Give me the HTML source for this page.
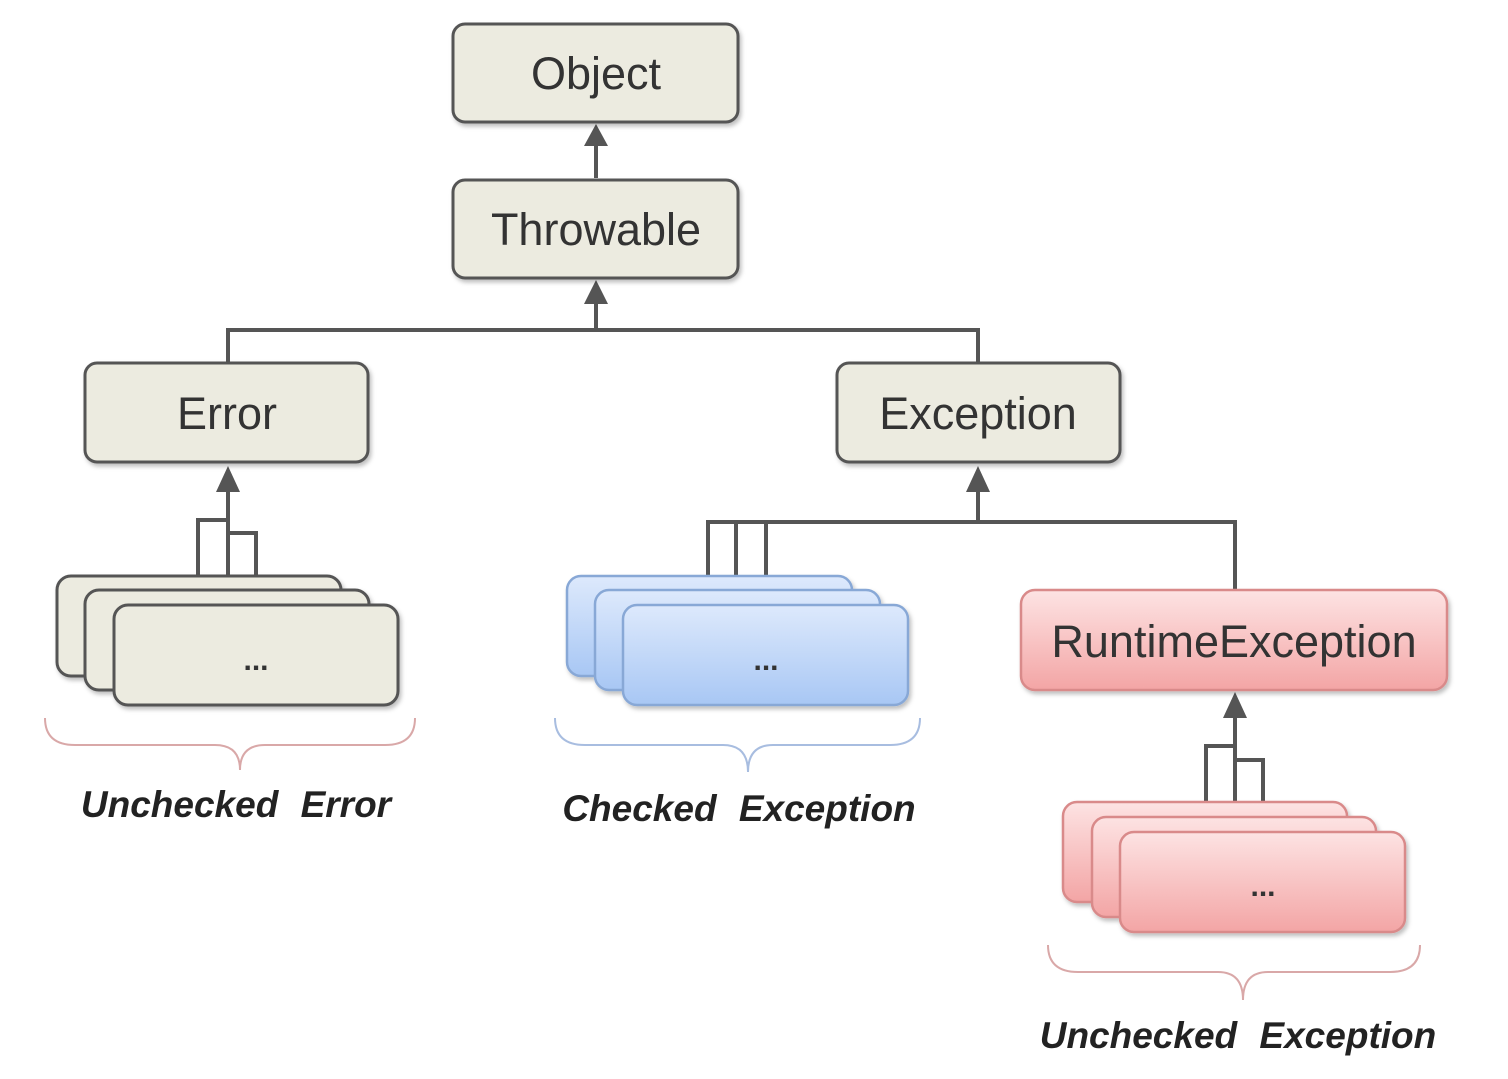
<!DOCTYPE html><html><head><style>body{margin:0;background:#fff}</style></head><body>
<svg width="1508" height="1074" xmlns="http://www.w3.org/2000/svg" font-family="Liberation Sans, DejaVu Sans, sans-serif">
<defs>
<linearGradient id="b" x1="0" y1="0" x2="0" y2="1"><stop offset="0" stop-color="#dde9fc"/><stop offset="1" stop-color="#a8c7f4"/></linearGradient>
<linearGradient id="p" x1="0" y1="0" x2="0" y2="1"><stop offset="0" stop-color="#fde3e3"/><stop offset="1" stop-color="#f3a5a5"/></linearGradient>
<filter id="s" x="-10%" y="-10%" width="120%" height="130%"><feDropShadow dx="2" dy="3" stdDeviation="2" flood-opacity="0.25"/></filter>
</defs>
<g fill="none" stroke="#555" stroke-width="4">
<path d="M596 178V140M596 328V298M228 363V330H978V363"/>
<path d="M198 576V520H228M228 590V490M256 605V533H228"/>
<path d="M708 576V522H1235V590M736 590V522M766 605V522M978 522V490"/>
<path d="M1206 802V746H1235M1235 817V718M1263 832V760H1235"/>
</g>
<g fill="#555">
<path d="M584 146L596 124L608 146Z"/><path d="M584 304L596 280L608 304Z"/>
<path d="M216 492L228 466L240 492Z"/><path d="M966 492L978 466L990 492Z"/>
<path d="M1223 718L1235 692L1247 718Z"/>
</g>
<g stroke="#555" stroke-width="3" fill="#ecebe0" filter="url(#s)">
<rect x="453" y="24" width="285" height="98" rx="12"/>
<rect x="453" y="180" width="285" height="98" rx="12"/>
<rect x="85" y="363" width="283" height="99" rx="12"/>
<rect x="837" y="363" width="283" height="99" rx="12"/>
<rect x="57" y="576" width="284" height="100" rx="14"/>
<rect x="85" y="590" width="284" height="100" rx="14"/>
<rect x="114" y="605" width="284" height="100" rx="14"/>
</g>
<g stroke="#88a8d6" stroke-width="2.5" fill="url(#b)" filter="url(#s)">
<rect x="567" y="576" width="285" height="100" rx="14"/>
<rect x="595" y="590" width="285" height="100" rx="14"/>
<rect x="623" y="605" width="285" height="100" rx="14"/>
</g>
<g stroke="#d98a8a" stroke-width="2.5" fill="url(#p)" filter="url(#s)">
<rect x="1021" y="590" width="426" height="100" rx="14"/>
<rect x="1063" y="802" width="284" height="100" rx="14"/>
<rect x="1092" y="817" width="284" height="100" rx="14"/>
<rect x="1120" y="832" width="285" height="100" rx="14"/>
</g>
<g fill="#333" font-size="45" text-anchor="middle">
<text x="596" y="89">Object</text>
<text x="596" y="245">Throwable</text>
<text x="227" y="429">Error</text>
<text x="978" y="429">Exception</text>
<text x="1234" y="657">RuntimeException</text>
</g>
<g fill="#333" font-size="30" text-anchor="middle" font-weight="bold">
<text x="256" y="670">...</text><text x="766" y="670">...</text><text x="1263" y="896">...</text>
</g>
<g fill="none" stroke-width="2">
<path d="M45 718Q45 745 75 745H215Q240 745 240 770Q240 745 265 745H385Q415 745 415 718" stroke="#d9a8a8"/>
<path d="M555 718Q555 745 585 745H723Q748 745 748 772Q748 745 773 745H890Q920 745 920 718" stroke="#a8bde0"/>
<path d="M1048 945Q1048 972 1078 972H1218Q1243 972 1243 1000Q1243 972 1268 972H1390Q1420 972 1420 945" stroke="#d9a8a8"/>
</g>
<g fill="#222" font-size="37" font-weight="bold" font-style="italic" text-anchor="middle" word-spacing="12">
<text x="236" y="817">Unchecked Error</text>
<text x="739" y="821">Checked Exception</text>
<text x="1238" y="1048">Unchecked Exception</text>
</g>
</svg>
</body></html>
